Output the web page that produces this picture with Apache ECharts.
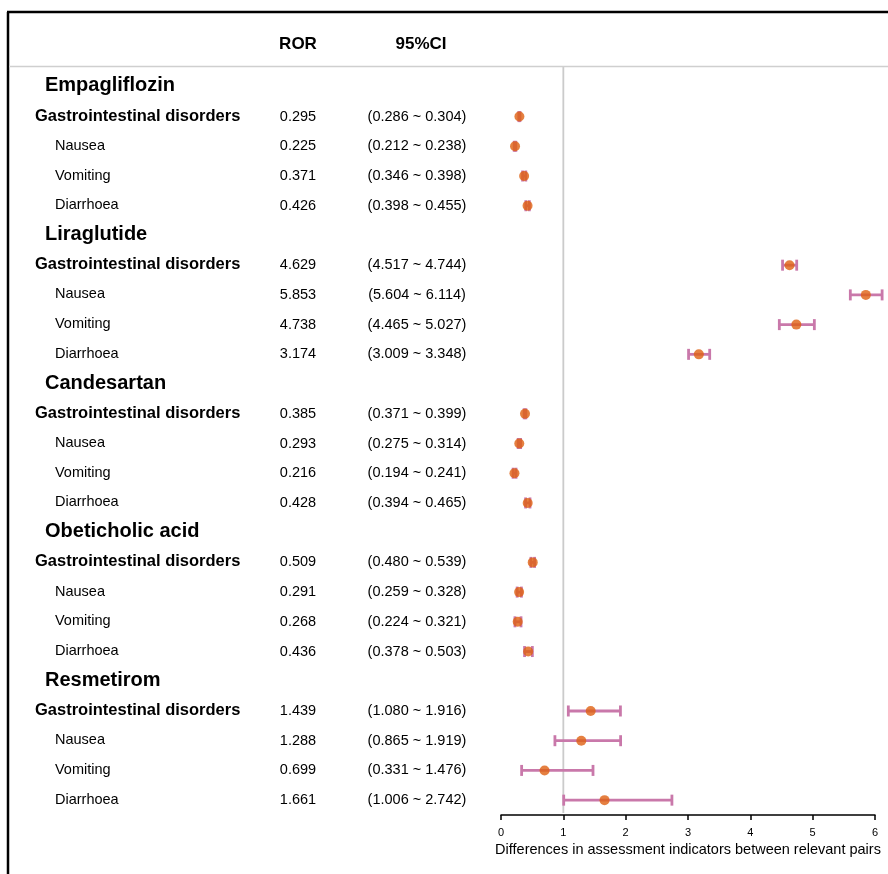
<!DOCTYPE html>
<html>
<head>
<meta charset="utf-8">
<script src="https://cdn.jsdelivr.net/npm/echarts@6/dist/echarts.min.js"></script>
<style>html,body{margin:0;padding:0;background:#fff}#c{width:888px;height:874px}</style>
</head>
<body>
<div id="c"></div>
<script>
// ---- data ----
const drugs = ['Empagliflozin', 'Liraglutide', 'Candesartan', 'Obeticholic acid', 'Resmetirom'];
const events = ['Gastrointestinal disorders', 'Nausea', 'Vomiting', 'Diarrhoea'];
const rorEmpagliflozin = [0.295, 0.225, 0.371, 0.426];
const lowEmpagliflozin = [0.286, 0.212, 0.346, 0.398];
const highEmpagliflozin = [0.304, 0.238, 0.398, 0.455];
const rorLiraglutide = [4.629, 5.853, 4.738, 3.174];
const lowLiraglutide = [4.517, 5.604, 4.465, 3.009];
const highLiraglutide = [4.744, 6.114, 5.027, 3.348];
const rorCandesartan = [0.385, 0.293, 0.216, 0.428];
const lowCandesartan = [0.371, 0.275, 0.194, 0.394];
const highCandesartan = [0.399, 0.314, 0.241, 0.465];
const rorObeticholic = [0.509, 0.291, 0.268, 0.436];
const lowObeticholic = [0.480, 0.259, 0.224, 0.378];
const highObeticholic = [0.539, 0.328, 0.321, 0.503];
const rorResmetirom = [1.439, 1.288, 0.699, 1.661];
const lowResmetirom = [1.080, 0.865, 0.331, 1.006];
const highResmetirom = [1.916, 1.919, 1.476, 2.742];
const xTicks = [0, 1, 2, 3, 4, 5, 6];
const refValue = 1;
const xAxisName = 'Differences in assessment indicators between relevant pairs';
const headerROR = 'ROR';
const headerCI = '95%CI';

const rorAll = [rorEmpagliflozin, rorLiraglutide, rorCandesartan, rorObeticholic, rorResmetirom];
const lowAll = [lowEmpagliflozin, lowLiraglutide, lowCandesartan, lowObeticholic, lowResmetirom];
const highAll = [highEmpagliflozin, highLiraglutide, highCandesartan, highObeticholic, highResmetirom];

// ---- build rows ----
const rows = [];
drugs.forEach((d, di) => {
  rows.push({ id: 'r' + rows.length, type: 'h', name: d });
  events.forEach((e, ei) => {
    rows.push({
      id: 'r' + rows.length, type: ei === 0 ? 'g' : 's', name: e,
      ror: rorAll[di][ei], low: lowAll[di][ei], high: highAll[di][ei]
    });
  });
});
const rowIds = rows.map(r => r.id);
const byId = {};
rows.forEach(r => byId[r.id] = r);
const dataRows = rows.filter(r => r.type !== 'h');
const fmt = v => v.toFixed(3);

const FONT = "'Liberation Sans', Arial, Helvetica, sans-serif";
const GL = 501, GR = 13, GT = 72, GB = 59;

const chart = echarts.init(document.getElementById('c'), null, { renderer: 'canvas' });

const catAxisBase = {
  type: 'category', gridIndex: 0, inverse: true, data: rowIds, position: 'left',
  axisLine: { show: false }, axisTick: { show: false }, splitLine: { show: false }
};

const option = {
  backgroundColor: '#fff',
  animation: false,
  textStyle: { fontFamily: FONT },
  grid: [
    { left: GL, right: GR, top: GT, bottom: GB, outerBoundsMode: 'none', containLabel: false },
    { left: GL, right: GR, top: 66, bottom: 61, outerBoundsMode: 'none', containLabel: false }
  ],
  xAxis: [
    {
      type: 'value', gridIndex: 0, min: xTicks[0], max: xTicks[xTicks.length - 1], interval: 1,
      axisLine: { show: true, lineStyle: { color: '#000', width: 1.5 } },
      axisTick: { show: true, length: 5, lineStyle: { color: '#000', width: 1.5 } },
      axisLabel: { color: '#000', fontSize: 11, margin: 12, fontFamily: FONT },
      splitLine: { show: false },
      name: xAxisName, nameLocation: 'middle', nameGap: 20,
      nameTextStyle: { color: '#000', fontSize: 14.5, fontFamily: FONT, verticalAlign: 'top' }
    },
    {
      type: 'value', gridIndex: 1, min: 0, max: 6, show: false
    }
  ],
  yAxis: [
    Object.assign({}, catAxisBase, {
      axisLabel: {
        interval: 0, hideOverlap: false, align: 'left', margin: GL - 35, color: '#000',
        formatter: v => { const r = byId[v]; return '{' + r.type + '|' + r.name + '}'; },
        rich: {
          h: { fontSize: 20, fontWeight: 'bold', color: '#000', fontFamily: FONT, padding: [0, 0, 2, 10] },
          g: { fontSize: 16.5, fontWeight: 'bold', color: '#000', fontFamily: FONT, padding: [0, 0, 1, 0] },
          s: { fontSize: 14.5, color: '#000', fontFamily: FONT, padding: [0, 0, 1, 20] }
        }
      }
    }),
    Object.assign({}, catAxisBase, {
      axisLabel: {
        interval: 0, hideOverlap: false, align: 'center', margin: GL - 298, color: '#000',
        fontSize: 14.5, fontFamily: FONT, padding: [0, 0, 2, 0],
        formatter: v => { const r = byId[v]; return r.type === 'h' ? '' : fmt(r.ror); }
      }
    }),
    Object.assign({}, catAxisBase, {
      axisLabel: {
        interval: 0, hideOverlap: false, align: 'center', margin: GL - 417, color: '#000',
        fontSize: 14.5, fontFamily: FONT, padding: [0, 0, 3, 0],
        formatter: v => { const r = byId[v]; return r.type === 'h' ? '' : '(' + fmt(r.low) + ' ~ ' + fmt(r.high) + ')'; }
      }
    }),
    { type: 'value', gridIndex: 1, min: 0, max: 1, show: false }
  ],
  graphic: [
    { type: 'line', shape: { x1: 7, y1: 12, x2: 888, y2: 12 }, style: { stroke: '#000', lineWidth: 2.5 }, z: 10 },
    { type: 'line', shape: { x1: 8, y1: 12, x2: 8, y2: 874 }, style: { stroke: '#000', lineWidth: 2.5 }, z: 10 },
    { type: 'line', shape: { x1: 9, y1: 66.5, x2: 888, y2: 66.5 }, style: { stroke: '#cfcfcf', lineWidth: 1.5 }, z: 10 },
    { type: 'text', x: 298, y: 44, style: { text: headerROR, font: 'bold 17px ' + FONT, fill: '#000', textAlign: 'center', textVerticalAlign: 'middle' } },
    { type: 'text', x: 421, y: 44, style: { text: headerCI, font: 'bold 17px ' + FONT, fill: '#000', textAlign: 'center', textVerticalAlign: 'middle' } }
  ],
  series: [
    {
      type: 'line', xAxisIndex: 1, yAxisIndex: 3, silent: true, symbol: 'none',
      data: [[refValue, 0], [refValue, 1]],
      lineStyle: { color: '#cbcbcb', width: 1.8 }, z: 1
    },
    {
      type: 'custom', xAxisIndex: 0, yAxisIndex: 0, clip: false, z: 2,
      data: dataRows.map(r => [r.low, r.high, r.id]),
      encode: { x: [0, 1], y: 2 },
      renderItem: (params, api) => {
        const y = api.value(2);
        const p1 = api.coord([api.value(0), y]);
        const p2 = api.coord([api.value(1), y]);
        const h = 5.5;
        const st = { stroke: '#c978aa', lineWidth: 2.8 };
        return {
          type: 'group',
          children: [
            { type: 'line', shape: { x1: p1[0], y1: p1[1], x2: p2[0], y2: p2[1] }, style: st },
            { type: 'line', shape: { x1: p1[0], y1: p1[1] - h, x2: p1[0], y2: p1[1] + h }, style: st },
            { type: 'line', shape: { x1: p2[0], y1: p2[1] - h, x2: p2[0], y2: p2[1] + h }, style: st }
          ]
        };
      }
    },
    {
      type: 'scatter', xAxisIndex: 0, yAxisIndex: 0, z: 3,
      symbol: 'circle', symbolSize: 10,
      itemStyle: { color: '#df6012' },
      data: dataRows.map(r => [r.ror, r.id])
    }
  ]
};
chart.setOption(option);
</script>
</body>
</html>
